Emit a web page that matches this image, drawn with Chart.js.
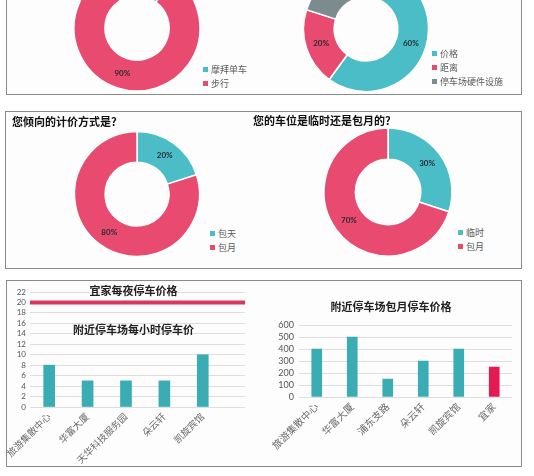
<!DOCTYPE html>
<html><head><meta charset="utf-8">
<script src="https://cdn.jsdelivr.net/npm/chart.js@4"></script>
<style>
html,body{margin:0;padding:0;background:#fff;width:534px;height:476px;overflow:hidden;position:relative;font-family:'Noto Sans CJK SC',sans-serif;}
.panel{position:absolute;border:1px solid #8a8a8a;background:#fdfdfd;box-sizing:border-box;}
canvas{position:absolute;}
.legend{position:absolute;font-size:9px;color:#595959;line-height:14px;white-space:nowrap;}
.legend .box{display:inline-block;width:5px;height:5px;margin-right:3px;vertical-align:middle;position:relative;top:-1px;}
.title{position:absolute;font-weight:bold;font-size:11px;color:#111;line-height:14px;white-space:nowrap;font-family:'Noto Sans CJK SC',sans-serif;}
</style></head>
<body>
<div class="panel" style="left:6px;top:-2px;width:516px;height:97px;"></div>
<div class="panel" style="left:5px;top:111px;width:517px;height:158px;"></div>
<div class="panel" style="left:6px;top:280px;width:516px;height:187px;"></div>

<canvas id="d1" width="140" height="140" style="left:67px;top:-42px;"></canvas>
<canvas id="d2" width="140" height="140" style="left:296px;top:-41px;"></canvas>
<canvas id="d3" width="140" height="140" style="left:67px;top:124px;"></canvas>
<canvas id="d4" width="140" height="140" style="left:318px;top:122px;"></canvas>
<canvas id="b1" width="254" height="183" style="left:6px;top:283px;"></canvas>
<canvas id="b2" width="252" height="183" style="left:270px;top:283px;"></canvas>

<div class="legend" id="lg1" style="left:203px;top:63px;"></div>
<div class="legend" id="lg2" style="left:432px;top:47px;"></div>
<div class="legend" id="lg3" style="left:210px;top:227px;line-height:13.5px;"></div>
<div class="legend" id="lg4" style="left:458px;top:226px;line-height:13.5px;"></div>
<div class="title" id="t3" style="left:12px;top:114px;"></div>
<div class="title" id="t4" style="left:253px;top:113px;"></div>

<script>
// ---- data ----
const travelLabels = ['摩拜单车', '步行'];
const travelValues = [10, 90];
const factorLabels = ['价格', '距离', '停车场硬件设施'];
const factorValues = [60, 20, 20];
const pricingTitle = '您倾向的计价方式是？';
const pricingLabels = ['包天', '包月'];
const pricingValues = [20, 80];
const spotTitle = '您的车位是临时还是包月的？';
const spotLabels = ['临时', '包月'];
const spotValues = [30, 70];
const hourlyTitle = '附近停车场每小时停车价';
const nightlyTitle = '宜家每夜停车价格';
const hourlyLabels = ['旅游集散中心', '华富大厦', '天华科技服务园', '朵云轩', '凯旋宾馆'];
const hourlyValues = [8, 5, 5, 5, 10];
const ikeaNightlyValue = [20];
const hourlyTicks = [0, 2, 4, 6, 8, 10, 12, 14, 16, 18, 20, 22];
const monthlyTitle = '附近停车场包月停车价格';
const monthlyLabels = ['旅游集散中心', '华富大厦', '浦东支路', '朵云轩', '凯旋宾馆', '宜家'];
const monthlyValues = [400, 500, 150, 300, 400, 250];
const monthlyTicks = [0, 100, 200, 300, 400, 500, 600];

// ---- styles ----
const TEAL = '#4BBDC6', PINK = '#E84A70', GRAY = '#7B8B8F';
const BAR_TEAL = '#3AACB4', BAR_RED = '#E51A50', LINE_RED = '#DA3760';
const CJK = "Lato, 'Noto Sans CJK SC', sans-serif";
Chart.defaults.font.family = CJK;

const pctLabels = {
  id: 'pctLabels',
  afterDatasetsDraw(chart) {
    const ctx = chart.ctx;
    const meta = chart.getDatasetMeta(0);
    const data = chart.data.datasets[0].data;
    const total = data.reduce((a, b) => a + b, 0);
    ctx.save();
    ctx.font = 'bold 8px Lato, sans-serif';
    ctx.fillStyle = '#2b2b33';
    ctx.textAlign = 'center';
    ctx.textBaseline = 'middle';
    meta.data.forEach((arc, i) => {
      const p = arc.tooltipPosition();
      ctx.fillText(Math.round(data[i] / total * 100) + '%', p.x, p.y);
    });
    ctx.restore();
  }
};

function donut(id, labels, values, colors, radius) {
  return new Chart(document.getElementById(id), {
    type: 'doughnut',
    data: { labels, datasets: [{ data: values, backgroundColor: colors, borderColor: '#ffffff', borderWidth: 1.5 }] },
    options: {
      responsive: false, animation: false, radius: radius, cutout: '51%',
      layout: { padding: 0 },
      plugins: { legend: { display: false }, tooltip: { enabled: false } }
    },
    plugins: [pctLabels]
  });
}

function legend(id, labels, colors) {
  document.getElementById(id).innerHTML = labels.map((l, i) =>
    '<div><span class="box" style="background:' + colors[i] + '"></span>' + l + '</div>').join('');
}

donut('d1', travelLabels, travelValues, [TEAL, PINK], 63);
donut('d2', factorLabels, factorValues, [TEAL, PINK, GRAY], 62.5);
donut('d3', pricingLabels, pricingValues, [TEAL, PINK], 62.5);
donut('d4', spotLabels, spotValues, [TEAL, PINK], 64);
legend('lg1', travelLabels, [TEAL, PINK]);
legend('lg2', factorLabels, [TEAL, PINK, GRAY]);
legend('lg3', pricingLabels, [TEAL, PINK]);
legend('lg4', spotLabels, [TEAL, PINK]);
document.getElementById('t3').textContent = pricingTitle;
document.getElementById('t4').textContent = spotTitle;

// ---- hourly bar chart ----
const xMin = -0.5, xMax = hourlyLabels.length + 0.1;
const hourlyTitles = {
  id: 'hourlyTitles',
  afterDatasetsDraw(chart) {
    const { ctx, chartArea, scales } = chart;
    const cx = (chartArea.left + chartArea.right) / 2 - 4;
    ctx.save();
    ctx.font = "bold 11px 'Noto Sans CJK SC', sans-serif";
    ctx.fillStyle = '#222';
    ctx.textAlign = 'center';
    ctx.textBaseline = 'middle';
    ctx.fillText(nightlyTitle, cx, scales.y.getPixelForValue(22) - 1);
    ctx.fillText(hourlyTitle, cx, scales.y.getPixelForValue(14.7));
    ctx.restore();
  }
};
new Chart(document.getElementById('b1'), {
  type: 'bar',
  data: {
    datasets: [
      { type: 'line', data: [{ x: xMin, y: ikeaNightlyValue[0] }, { x: xMax, y: ikeaNightlyValue[0] }],
        borderColor: LINE_RED, borderWidth: 4, pointRadius: 0, order: 0 },
      { type: 'bar', data: hourlyValues.map((v, i) => ({ x: i, y: v })),
        backgroundColor: BAR_TEAL, barThickness: 11, order: 1 }
    ]
  },
  options: {
    responsive: false, animation: false,
    layout: { padding: { left: 0, top: 9, right: 15, bottom: 0 } },
    scales: {
      x: {
        type: 'linear', min: xMin, max: xMax, offset: false,
        grid: { display: false, drawTicks: false, offset: false }, border: { display: false },
        afterBuildTicks: s => { s.ticks = hourlyLabels.map((_, i) => ({ value: i })); },
        afterFit: s => { s.height = 59; s.paddingLeft = 0; s.paddingRight = 0; },
        ticks: { callback: v => hourlyLabels[v], minRotation: 45, maxRotation: 45, autoSkip: false,
                 font: { size: 9.5 }, color: '#6a6a6a', padding: 4 }
      },
      y: {
        min: 0, max: 22,
        afterBuildTicks: s => { s.ticks = hourlyTicks.map(v => ({ value: v })); },
        afterFit: s => { s.width = 24; },
        grid: { color: '#dedede', drawTicks: false }, border: { display: false },
        ticks: { font: { size: 8 }, color: '#555', padding: 4, autoSkip: false }
      }
    },
    plugins: { legend: { display: false }, tooltip: { enabled: false } }
  },
  plugins: [hourlyTitles]
});

// ---- monthly bar chart ----
new Chart(document.getElementById('b2'), {
  type: 'bar',
  data: {
    labels: monthlyLabels,
    datasets: [{ data: monthlyValues,
      backgroundColor: monthlyLabels.map((l, i) => i === monthlyLabels.length - 1 ? BAR_RED : BAR_TEAL),
      barThickness: 10 }]
  },
  options: {
    responsive: false, animation: false,
    layout: { padding: { left: 0, top: 0, right: 10, bottom: 0 } },
    scales: {
      x: {
        grid: { display: false, drawTicks: false }, border: { display: false },
        afterFit: s => { s.height = 69; s.paddingLeft = 0; s.paddingRight = 0; },
        ticks: { minRotation: 45, maxRotation: 45, autoSkip: false, font: { size: 10 }, color: '#6a6a6a', padding: 4 }
      },
      y: {
        min: 0, max: 600,
        afterBuildTicks: s => { s.ticks = monthlyTicks.map(v => ({ value: v })); },
        afterFit: s => { s.width = 29; },
        grid: { color: '#dedede', drawTicks: false }, border: { display: false },
        ticks: { font: { size: 9 }, color: '#555', padding: 5, autoSkip: false }
      }
    },
    plugins: {
      legend: { display: false }, tooltip: { enabled: false },
      title: { display: true, text: monthlyTitle, color: '#222',
               font: { size: 11, weight: 'bold', family: "'Noto Sans CJK SC', sans-serif" },
               padding: { top: 17, bottom: 12 } }
    }
  }
});
</script>
</body></html>
